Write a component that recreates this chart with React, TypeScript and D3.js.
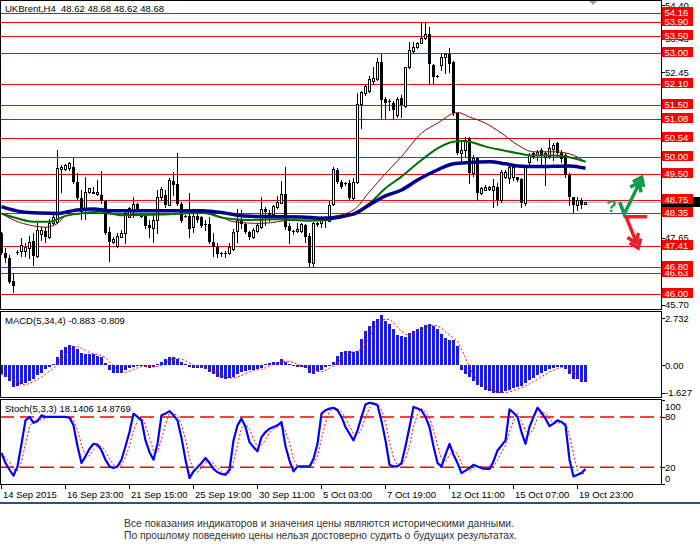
import * as d3 from "d3";

// ---- data (UKBrent H4, 14 Sep – 20 Oct 2015) ----

// [open, high, low, close] for each H4 bar
const candles: [number, number, number, number][] = [
  [47.77, 47.82, 47.17, 47.19], [47.19, 47.35, 46.95, 47.05], [47.05, 47.15, 46.34, 46.37], [46.4, 46.61, 46.08, 46.24],
  [47.22, 47.3, 47.18, 47.22], [47.27, 47.63, 47.12, 47.43], [47.27, 47.5, 47.12, 47.39], [47.34, 47.7, 47.05, 47.53],
  [47.55, 47.77, 46.85, 47.12], [47.12, 48.06, 47.08, 47.87], [47.74, 47.97, 47.58, 47.87], [47.84, 47.97, 47.53, 47.68],
  [47.68, 48.18, 47.63, 48.08], [48.08, 48.3, 48.02, 48.24], [48.11, 50.19, 48.06, 49.66], [49.63, 49.76, 48.98, 49.69],
  [49.63, 49.8, 49.61, 49.76], [49.66, 49.85, 49.61, 49.82], [49.69, 49.95, 49.22, 49.27], [49.27, 49.51, 48.77, 48.79],
  [48.79, 49.03, 48.18, 48.4], [48.45, 49.42, 48.18, 48.98], [48.96, 49.1, 48.93, 49.08], [48.96, 49.11, 48.93, 48.97],
  [48.92, 49.32, 48.89, 48.98], [48.9, 49.59, 48.64, 48.72], [48.72, 48.74, 47.75, 47.77], [47.8, 47.97, 46.98, 47.53],
  [47.53, 47.68, 47.48, 47.61], [47.41, 47.77, 47.39, 47.7], [47.68, 47.87, 47.66, 47.79], [47.77, 48.4, 47.48, 48.35],
  [48.26, 48.55, 48.24, 48.5], [48.45, 48.84, 48.26, 48.62], [48.62, 48.66, 48.45, 48.48], [48.3, 48.35, 48.24, 48.26],
  [48.28, 48.3, 47.92, 47.99], [48.02, 48.16, 47.68, 47.92], [47.92, 48.35, 47.53, 48.16], [48.16, 49.03, 47.77, 48.84],
  [48.84, 49.13, 48.74, 49.06], [48.9, 49.03, 48.55, 48.6], [48.6, 49.37, 48.6, 49.32], [49.3, 49.56, 48.89, 49.18],
  [49.21, 50.11, 48.6, 48.63], [48.63, 48.69, 48.11, 48.14], [48.28, 48.31, 48.26, 48.28], [48.28, 48.95, 47.68, 47.91],
  [47.95, 48.35, 47.82, 48.28], [48.28, 48.33, 48.11, 48.16], [48.24, 48.28, 47.95, 47.99], [48.04, 48.16, 47.87, 48.03],
  [48.04, 48.26, 47.5, 47.53], [47.53, 47.79, 47.12, 47.37], [47.37, 47.48, 47.1, 47.17], [47.19, 47.24, 47.12, 47.19],
  [47.21, 47.27, 47.1, 47.21], [47.21, 47.48, 47.17, 47.37], [47.32, 47.89, 47.29, 47.82], [47.85, 48.47, 47.53, 48.16],
  [48.18, 48.45, 47.92, 48.04], [48.04, 48.08, 47.79, 47.82], [47.82, 47.85, 47.62, 47.66], [47.66, 47.92, 47.63, 47.87],
  [47.85, 48.06, 47.82, 48.02], [47.97, 48.84, 47.92, 48.47], [48.47, 48.53, 48.01, 48.4], [48.37, 48.45, 48.14, 48.26],
  [48.33, 48.59, 48.31, 48.57], [48.53, 48.86, 48.5, 48.69], [48.66, 49.3, 48.64, 48.92], [48.92, 49.71, 47.89, 47.97],
  [47.99, 48.06, 47.48, 47.84], [47.84, 47.87, 47.75, 47.84], [47.84, 48.06, 47.82, 47.9], [47.85, 48.08, 47.82, 48.04],
  [48.02, 48.04, 47.53, 47.68], [47.7, 47.78, 46.81, 46.92], [46.92, 48.11, 46.81, 48.06], [48.06, 48.1, 47.98, 48.02],
  [48.06, 48.28, 47.97, 48.2], [48.22, 48.28, 47.95, 48.12], [48.14, 48.72, 48.12, 48.6], [48.62, 49.71, 48.6, 49.63],
  [49.61, 49.66, 49.22, 49.27], [49.27, 49.32, 49.08, 49.11], [49.22, 49.27, 49.18, 49.22], [49.22, 49.32, 48.76, 48.79],
  [48.79, 49.37, 48.74, 49.27], [49.27, 51.84, 49.22, 51.53], [51.53, 51.91, 50.82, 51.89], [51.84, 52.08, 51.79, 52.05],
  [51.91, 52.34, 51.89, 52.24], [52.2, 52.61, 52.15, 52.27], [52.24, 52.85, 52.22, 52.76], [52.76, 52.98, 51.11, 51.64],
  [51.66, 51.74, 51.11, 51.57], [51.6, 51.66, 51.35, 51.6], [51.55, 51.6, 51.11, 51.35], [51.21, 51.74, 51.16, 51.66],
  [51.69, 51.79, 51.16, 51.5], [51.47, 52.61, 51.43, 52.59], [52.59, 53.34, 52.56, 53.09], [53.08, 53.34, 53.02, 53.19],
  [53.19, 53.34, 53.14, 53.31], [53.31, 53.87, 53.29, 53.45], [53.43, 53.89, 53.4, 53.55], [53.55, 53.77, 52.13, 52.69],
  [52.66, 52.69, 52.13, 52.32], [52.34, 52.37, 52.32, 52.34], [52.66, 53.0, 52.51, 52.9], [52.88, 53.0, 52.44, 52.98],
  [52.98, 53.14, 52.47, 52.69], [52.76, 52.78, 51.21, 51.26], [51.26, 51.28, 50.08, 50.1], [50.1, 50.43, 49.85, 50.19],
  [50.19, 50.58, 50.0, 50.48], [50.53, 50.58, 49.23, 49.52], [49.52, 50.05, 49.45, 49.95], [49.95, 50.0, 48.74, 48.93],
  [48.93, 49.13, 48.92, 49.08], [49.03, 49.18, 49.03, 49.13], [49.05, 49.15, 49.03, 49.13], [49.03, 49.34, 48.55, 49.15],
  [49.13, 49.23, 48.6, 48.74], [48.74, 49.61, 48.69, 49.56], [49.42, 49.61, 49.38, 49.56], [49.37, 49.76, 49.23, 49.69],
  [49.4, 49.71, 49.32, 49.69], [49.4, 49.42, 49.3, 49.32], [49.34, 49.37, 48.53, 48.66], [48.64, 49.76, 48.6, 49.71],
  [49.85, 50.1, 49.76, 50.05], [50.1, 50.14, 49.95, 50.0], [50.05, 50.19, 49.9, 50.14], [50.19, 50.24, 49.71, 50.05],
  [50.0, 50.14, 49.18, 50.1], [50.02, 50.53, 49.95, 50.24], [50.21, 50.39, 49.9, 50.34], [50.39, 50.43, 50.0, 50.1],
  [50.11, 50.19, 49.85, 49.92], [50.05, 50.1, 49.42, 49.47], [49.47, 49.52, 48.6, 48.84], [48.82, 48.84, 48.4, 48.6],
  [48.6, 48.82, 48.45, 48.74], [48.74, 48.79, 48.5, 48.6], [48.62, 48.68, 48.62, 48.68],
];

// moving averages, [bar, price] read at the bends
const maSlow: [number, number][] = [
  [0, 48.55], [5, 48.4], [10, 48.36], [14, 48.35], [17, 48.41], [19, 48.45], [23, 48.48], [27, 48.43], [40, 48.43],
  [50, 48.43], [56, 48.36], [60, 48.28], [65, 48.26], [75, 48.25], [80, 48.21], [88, 48.33], [92, 48.6], [96, 48.86],
  [100, 49.03], [104, 49.32], [108, 49.56], [113, 49.79], [117, 49.83], [122, 49.85], [126, 49.79], [129, 49.73],
  [134, 49.71], [142, 49.73], [146, 49.66],
];
const maMid: [number, number][] = [
  [0, 48.35], [3, 48.24], [8, 48.11], [12, 48.11], [16, 48.28], [21, 48.37], [25, 48.4], [30, 48.3], [40, 48.32],
  [50, 48.37], [56, 48.21], [61, 48.16], [69, 48.18], [77, 48.14], [82, 48.17], [88, 48.35], [92, 48.64], [96, 49.08],
  [100, 49.42], [105, 49.9], [109, 50.24], [113, 50.43], [115, 50.45], [117, 50.43], [121, 50.29], [125, 50.19],
  [129, 50.1], [133, 50.03], [138, 50.03], [141, 50.0], [146, 49.85],
];
const maFast: [number, number][] = [
  [0, 48.35], [3, 48.16], [8, 47.99], [11, 47.95], [14, 48.06], [16, 48.28], [21, 48.35], [25, 48.35], [30, 48.31],
  [40, 48.33], [52, 48.35], [55, 48.24], [58, 48.11], [65, 48.06], [73, 48.16], [77, 48.16], [82, 48.24], [88, 48.45],
  [92, 48.98], [96, 49.51], [100, 50.0], [105, 50.68], [109, 50.97], [114, 51.28], [117, 51.15], [121, 50.97],
  [125, 50.68], [129, 50.34], [133, 50.14], [138, 50.14], [142, 50.08], [146, 49.85],
];

// MACD(5,34,4) main values
const macd: number[] = [
  -0.55, -0.7, -0.95, -1.31, -1.2, -1.1, -1.05, -0.95, -0.8, -0.6, -0.45, -0.25, -0.1, 0.05, 0.45, 0.9, 1.05, 1.15, 1.1,
  0.95, 0.7, 0.65, 0.65, 0.62, 0.55, 0.45, 0.1, -0.3, -0.45, -0.48, -0.45, -0.3, -0.2, -0.1, -0.03, -0.05, -0.12, -0.15,
  -0.12, 0.05, 0.2, 0.35, 0.45, 0.45, 0.35, 0.15, 0.05, -0.1, -0.15, -0.15, -0.2, -0.25, -0.4, -0.55, -0.7, -0.75, -0.8,
  -0.78, -0.7, -0.55, -0.4, -0.35, -0.3, -0.28, -0.25, -0.15, 0.05, 0.1, 0.15, 0.2, 0.35, 0.2, 0.08, -0.02, -0.1, -0.12,
  -0.2, -0.45, -0.5, -0.35, -0.3, -0.1, 0.02, 0.15, 0.5, 0.75, 0.8, 0.8, 0.75, 0.8, 1.5, 2.0, 2.3, 2.55, 2.7, 2.9, 2.6,
  2.4, 2.1, 1.75, 1.7, 1.65, 1.85, 2.0, 2.1, 2.25, 2.35, 2.4, 2.3, 2.1, 1.8, 1.6, 1.45, 1.45, 1.1, -0.3, -0.55, -0.7,
  -0.95, -1.15, -1.3, -1.45, -1.55, -1.62, -1.66, -1.62, -1.55, -1.45, -1.35, -1.28, -1.2, -1.05, -0.9, -0.75, -0.6,
  -0.45, -0.35, -0.25, -0.15, -0.1, -0.1, -0.23, -0.53, -0.84, -0.84, -1.0, -0.98,
];

// Stochastic(5,3,3) %K
const stochK: number[] = [
  37, 25, 17, 10, 21, 48, 76, 80, 73, 75, 82, 80, 80, 80, 80, 80, 80, 79, 70, 45, 25, 33, 42, 48, 47, 40, 29, 21, 19,
  21, 29, 45, 62, 84, 80, 76, 52, 38, 29, 48, 82, 84, 87, 82, 76, 55, 29, 7, 15, 20, 25, 31, 25, 18, 14, 12, 11, 17,
  52, 70, 78, 68, 50, 44, 39, 56, 62, 66, 68, 70, 74, 45, 28, 15, 21, 21, 21, 21, 30, 48, 84, 88, 90, 91, 88, 80, 68,
  60, 52, 64, 80, 95, 97, 96, 94, 75, 52, 23, 21, 21, 25, 45, 68, 92, 90, 88, 80, 68, 45, 25, 21, 35, 48, 35, 25, 13,
  16, 19, 23, 21, 19, 18, 18, 27, 40, 46, 52, 89, 85, 80, 62, 48, 68, 80, 91, 85, 78, 69, 72, 76, 74, 70, 29, 9, 11,
  13, 18,
];

const levels = [54.16, 53.9, 53.5, 53.0, 52.1, 51.5, 51.08, 50.54, 50.0, 49.5, 48.75, 48.35, 47.41, 46.63, 46.8, 46.0];
const priceTicks = [54.4, 53.43, 52.45, 47.65, 45.7];
const lastPrice = 48.68;
const macdTicks = [2.732, 0, -1.627];
const stochTicks = [100, 80, 20, 0];
const stochLevels = [80, 20];
const timeTicks: [number, string][] = [
  [0, "14 Sep 2015"], [16, "16 Sep 23:00"], [32, "21 Sep 15:00"], [48, "25 Sep 19:00"], [64, "30 Sep 11:00"],
  [80, "5 Oct 03:00"], [96, "7 Oct 19:00"], [112, "12 Oct 11:00"], [128, "15 Oct 07:00"], [144, "19 Oct 23:00"],
];

const FONT = "'Liberation Sans', Arial, sans-serif";
const AX = 661; // right edge of the plotting panels

const sma = (a: number[], n: number) =>
  a.map((_, i) => d3.mean(a.slice(Math.max(0, i - n + 1), i + 1)) as number);

function chevrons(tx: number, ty: number, ux: number, uy: number) {
  // two arrow heads pointing along (ux,uy), tip at (tx,ty)
  const px = -uy, py = ux;
  let d = "";
  for (const back of [0, 6]) {
    const ax = tx - ux * back, ay = ty - uy * back;
    d += `M${ax - ux * 8 + px * 6},${ay - uy * 8 + py * 6}L${ax},${ay}L${ax - ux * 8 - px * 6},${ay - uy * 8 - py * 6}`;
  }
  return d;
}

export default function App() {
  const x = d3.scaleLinear().domain([0, 146]).range([1, 585]);
  const yP = d3.scaleLinear().domain([45.7, 54.4]).range([304.75, 5.03]);
  const yM = d3.scaleLinear().domain([0, 2.732]).range([365, 318.3]);
  const yS = d3.scaleLinear().domain([0, 100]).range([484, 400.2]);
  const px = (i: number) => Math.round(x(i));
  const cy = (v: number) => Math.round(v) + 0.5;

  const maLine = d3
    .line<[number, number]>()
    .x((d) => x(d[0]) + 0.5)
    .y((d) => yP(d[1]))
    .curve(d3.curveMonotoneX);

  const signal = sma(macd, 4);
  const stochD = sma(stochK, 3);
  const macdLine = d3.line<number>().x((_, i) => x(i) + 0.5).y((d) => yM(d));
  const stochLine = d3.line<number>().x((_, i) => x(i) + 0.5).y((d) => yS(d));

  // hand-drawn arrows anchored in price space
  const ax0 = x(155.8), ay0 = yP(48.33);
  const gDir = [0.436, -0.9];
  const rDir = [0.377, 0.926];

  return (
    <div style={{ position: "absolute", left: 0, top: 0 }}>
      <svg width={700} height={552} style={{ display: "block", fontFamily: FONT }}>
        <rect width={700} height={552} fill="#fff" />

        {/* main panel */}
        <g shapeRendering="crispEdges">
          {levels.map((v) => (
            <line key={v} x1={0} x2={AX} y1={cy(yP(v))} y2={cy(yP(v))} stroke="#ff0000" />
          ))}
          <line x1={0} x2={AX} y1={cy(yP(lastPrice))} y2={cy(yP(lastPrice))} stroke="#c0c0c0" />
        </g>

        <g shapeRendering="crispEdges">
          {candles.map(([o, h, l, c], i) => {
            const xc = px(i);
            const top = Math.round(yP(Math.max(o, c)));
            const bot = Math.round(yP(Math.min(o, c)));
            return (
              <g key={i}>
                <line x1={xc + 0.5} x2={xc + 0.5} y1={Math.round(yP(h))} y2={Math.round(yP(l)) + 1} stroke="#000" />
                {c < o ? (
                  <rect x={xc - 1} y={top} width={3} height={Math.max(1, bot - top)} fill="#000" />
                ) : c > o ? (
                  <rect x={xc - 0.5} y={top + 0.5} width={2} height={Math.max(1, bot - top)} fill="#fff" stroke="#000" />
                ) : (
                  <rect x={xc - 1} y={top} width={3} height={1} fill="#000" />
                )}
              </g>
            );
          })}
        </g>

        <path d={maLine(maFast) ?? ""} fill="none" stroke="#8b0000" strokeWidth={1} />
        <path d={maLine(maMid) ?? ""} fill="none" stroke="#006e00" strokeWidth={2} />
        <path d={maLine(maSlow) ?? ""} fill="none" stroke="#00008b" strokeWidth={3.5} />

        {/* annotation arrows */}
        <text x={ax0 - 18} y={ay0 - 2} fontSize={17} fontWeight="bold" fill="#0f9a4a">?</text>
        <path
          d={`M${ax0 - 4.5},${ay0 - 12}L${ax0},${ay0}L${ax0 + 16},${ay0 - 33}` + chevrons(ax0 + 17.5, ay0 - 37, gDir[0], gDir[1])}
          fill="none" stroke="#0f9a4a" strokeWidth={3.5} strokeLinejoin="miter"
        />
        <path
          d={`M${ax0},${ay0 + 2.5}L${ax0 + 23},${ay0 + 2.5}M${ax0 + 2},${ay0 + 3}L${ax0 + 12.5},${ay0 + 29}` + chevrons(ax0 + 14, ay0 + 34, rDir[0], rDir[1])}
          fill="none" stroke="#e8202a" strokeWidth={3.5}
        />

        <text x={5} y={11.5} fontSize={9.5} fill="#000" style={{ whiteSpace: "pre" }}>
          {"UKBrent,H4  48.62 48.68 48.62 48.68"}
        </text>
        <polygon points="589,1 597,1 593,5" fill="#a0a0a0" />

        {/* MACD panel */}
        <g shapeRendering="crispEdges">
          {macd.map((v, i) => {
            const y0 = Math.round(yM(0));
            const y1 = Math.round(yM(v));
            return (
              <rect key={i} x={px(i) - 1} y={Math.min(y0, y1)} width={3} height={Math.max(1, Math.abs(y1 - y0))} fill="#1a1ae6" />
            );
          })}
        </g>
        <path d={macdLine(signal) ?? ""} fill="none" stroke="#ff0000" strokeWidth={1} strokeDasharray="2,2" />
        <text x={5} y={324} fontSize={9.5} fill="#000">MACD(5,34,4) -0.883 -0.809</text>

        {/* Stochastic panel */}
        {stochLevels.map((v) => (
          <line key={v} x1={0} x2={AX} y1={yS(v)} y2={yS(v)} stroke="#ff0000" strokeWidth={1.4} strokeDasharray="14,6" />
        ))}
        <path d={stochLine(stochD) ?? ""} fill="none" stroke="#ff0000" strokeWidth={1} strokeDasharray="2,2" />
        <path d={stochLine(stochK) ?? ""} fill="none" stroke="#0000ff" strokeWidth={2.2} strokeLinejoin="round" />
        <text x={5} y={411.5} fontSize={9.5} fill="#000">Stoch(5,3,3) 18.1406 14.8769</text>

        {/* panel frames */}
        <g fill="none" stroke="#000" shapeRendering="crispEdges">
          <rect x={0.5} y={0.5} width={AX - 0.5} height={309} />
          <rect x={0.5} y={311.5} width={AX - 0.5} height={85.5} />
          <rect x={0.5} y={399.5} width={AX - 0.5} height={84.5} />
        </g>

        {/* right price scale */}
        <g fontSize={9.5}>
          {priceTicks.map((v) => (
            <g key={v}>
              <line x1={AX} x2={AX + 4} y1={cy(yP(v))} y2={cy(yP(v))} stroke="#000" shapeRendering="crispEdges" />
              <text x={665} y={yP(v) + 3.5} fill="#000">{v.toFixed(2)}</text>
            </g>
          ))}
          {/* current bid marker, mostly covered by the level tags */}
          <rect x={662} y={Math.round(yP(lastPrice)) - 5} width={38} height={10} fill="#000" />
          {levels.map((v) => {
            const yc = Math.round(yP(v));
            return (
              <g key={v}>
                <rect x={662} y={yc - 6} width={31} height={10} fill="#ff0000" />
                <text x={664.5} y={yc + 2.5} fill="#fff">{v.toFixed(2)}</text>
              </g>
            );
          })}
          {macdTicks.map((v) => (
            <g key={v}>
              <line x1={AX} x2={AX + 4} y1={cy(yM(v))} y2={cy(yM(v))} stroke="#000" shapeRendering="crispEdges" />
              <text x={665} y={yM(v) + 3.5} fill="#000">{v === 0 ? "0.00" : v.toFixed(3)}</text>
            </g>
          ))}
          {stochTicks.map((v) => (
            <g key={v}>
              <line x1={AX} x2={AX + 4} y1={cy(yS(v))} y2={cy(yS(v))} stroke="#000" shapeRendering="crispEdges" />
              <text x={665} y={(v === 100 ? yS(v) + 6 : v === 0 ? yS(v) - 6 : yS(v)) + 3.5} fill="#000">{v}</text>
            </g>
          ))}
        </g>

        {/* time axis */}
        <g fontSize={9.5}>
          {timeTicks.map(([b, t]) => (
            <g key={b}>
              <line x1={px(b) + 0.5} x2={px(b) + 0.5} y1={484} y2={489} stroke="#000" shapeRendering="crispEdges" />
              <text x={px(b) + 2} y={497.5} fill="#000">{t}</text>
            </g>
          ))}
        </g>
        <rect x={0} y={502} width={700} height={2} fill="#2a5474" />

        <g fontSize={11} fill="#333">
          <text x={124} y={527} textLength={390} lengthAdjust="spacingAndGlyphs">
            Все показания индикаторов и значения цены являются историческими данными.
          </text>
          <text x={124} y={539} textLength={393} lengthAdjust="spacingAndGlyphs">
            По прошлому поведению цены нельзя достоверно судить о будущих результатах.
          </text>
        </g>
      </svg>
    </div>
  );
}
